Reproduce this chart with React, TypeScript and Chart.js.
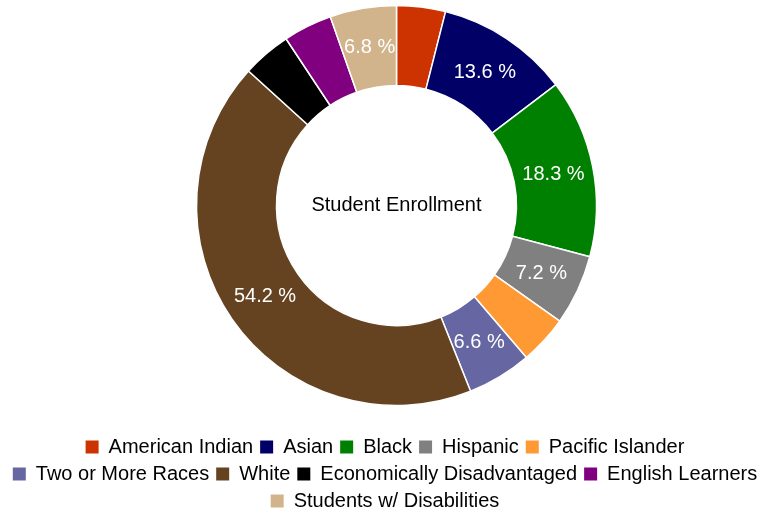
import React, { useEffect, useRef } from "react";
import { Chart, registerables } from "chart.js";

Chart.register(...registerables);

const categories = [
  "American Indian",
  "Asian",
  "Black",
  "Hispanic",
  "Pacific Islander",
  "Two or More Races",
  "White",
  "Economically Disadvantaged",
  "English Learners",
  "Students w/ Disabilities",
];
const enrollmentValues = [5, 13.6, 18.3, 7.2, 5, 6.6, 54.2, 5, 5, 6.8];
const sliceColors = [
  "#CC3300",
  "#000066",
  "#008000",
  "#808080",
  "#FF9933",
  "#6666A3",
  "#654321",
  "#000000",
  "#800080",
  "#D2B48C",
];
const centerTitle = "Student Enrollment";
const labelThreshold = 5;

const FONT = "'Liberation Sans', Arial, sans-serif";

const centerTextPlugin = {
  id: "centerText",
  afterDatasetsDraw(chart: any) {
    const meta = chart.getDatasetMeta(0);
    const arc = meta.data[0];
    if (!arc) return;
    const ctx = chart.ctx;
    ctx.save();
    ctx.font = `20px ${FONT}`;
    ctx.fillStyle = "#000";
    ctx.textAlign = "center";
    ctx.textBaseline = "middle";
    ctx.fillText(centerTitle, arc.x, arc.y);
    ctx.restore();
  },
};

const sliceLabelPlugin = {
  id: "sliceLabels",
  afterDatasetsDraw(chart: any) {
    const meta = chart.getDatasetMeta(0);
    const data = chart.data.datasets[0].data as number[];
    const ctx = chart.ctx;
    ctx.save();
    ctx.font = `20px ${FONT}`;
    ctx.fillStyle = "#fff";
    ctx.textAlign = "center";
    ctx.textBaseline = "middle";
    meta.data.forEach((el: any, i: number) => {
      const v = data[i];
      if (v <= labelThreshold) return;
      const p = el.tooltipPosition();
      ctx.fillText(`${v} %`, p.x, p.y);
    });
    ctx.restore();
  },
};

export default function App() {
  const ref = useRef<HTMLCanvasElement | null>(null);
  useEffect(() => {
    if (!ref.current) return;
    const chart = new Chart(ref.current, {
      type: "doughnut",
      data: {
        labels: categories,
        datasets: [
          {
            data: enrollmentValues,
            backgroundColor: sliceColors,
            borderColor: "#ffffff",
            borderWidth: 1.5,
          },
        ],
      },
      options: {
        animation: false,
        responsive: true,
        maintainAspectRatio: false,
        radius: 200,
        cutout: "60%",
        layout: { padding: 0 },
        plugins: {
          // invisible spacer on the left so the ring sits right of the legend centre
          title: {
            display: true,
            position: "left",
            fullSize: false,
            text: "",
            font: { size: 23, lineHeight: 1 },
            padding: 0,
          },
          legend: {
            position: "bottom",
            labels: {
              boxWidth: 13,
              boxHeight: 13,
              padding: 7,
              color: "#000",
              font: { size: 20, family: FONT },
              generateLabels: (c: any) =>
                (Chart as any).overrides.doughnut.plugins.legend.labels
                  .generateLabels(c)
                  .map((l: any) => ({ ...l, lineWidth: 0 })),
            },
          },
          tooltip: { enabled: false },
        },
      } as any,
      plugins: [sliceLabelPlugin, centerTextPlugin],
    });
    return () => chart.destroy();
  }, []);
  return (
    <div
      style={{
        position: "fixed",
        left: 3,
        top: -19,
        width: 764,
        height: 540,
        background: "#fff",
      }}
    >
      <canvas ref={ref} />
    </div>
  );
}
